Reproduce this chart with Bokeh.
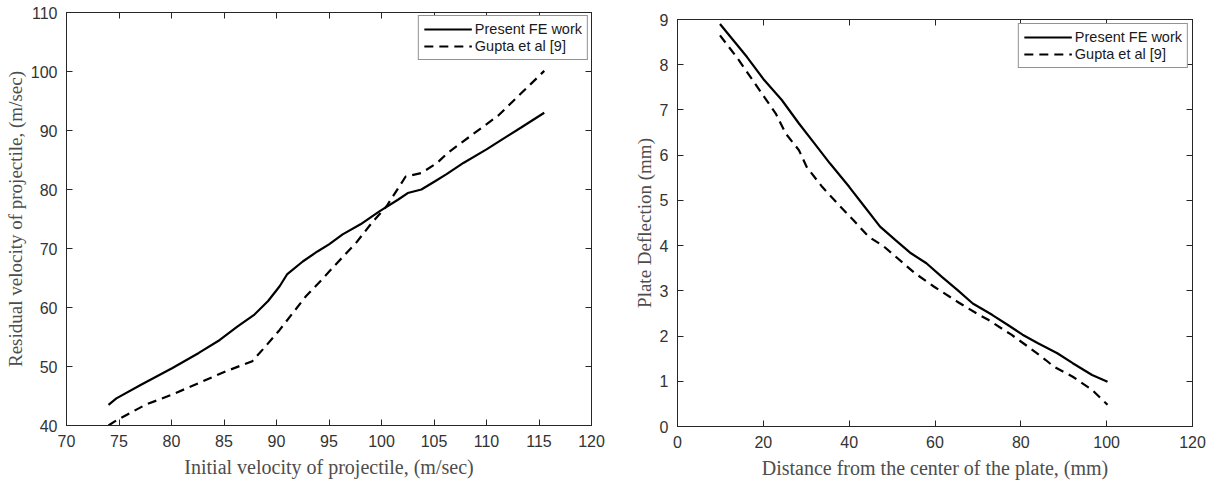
from bokeh.plotting import figure
from bokeh.layouts import row, column
from bokeh.models import (LinearAxis, SingleIntervalTicker, Legend, LegendItem, Range1d,
                          CustomJSTickFormatter)
from bokeh.embed import file_html
from bokeh.resources import INLINE

# ---- Left chart data: residual vs initial velocity ----
fe_vi = [74.0, 74.75, 77.1, 80.05, 82.6, 84.6, 86.3, 87.9, 89.2, 90.3, 91.0, 92.5, 93.9, 95.0,
         96.3, 98.0, 99.8, 101.6, 102.5, 103.8, 105.1, 106.2, 107.8, 110.0, 111.5, 113.3, 115.5]
fe_vr = [43.5, 44.6, 46.9, 49.7, 52.3, 54.5, 56.8, 58.8, 61.1, 63.6, 65.6, 67.8, 69.5, 70.7,
         72.4, 74.1, 76.3, 78.3, 79.4, 80.0, 81.4, 82.6, 84.5, 86.8, 88.5, 90.5, 93.0]
gu_vi = [74.0, 74.6, 77.5, 80.0, 82.6, 85.2, 87.7, 88.8, 90.3, 91.7, 92.8, 94.3, 95.8, 97.6,
         99.1, 100.5, 102.3, 103.8, 105.3, 106.3, 108.5, 111.1, 115.5]
gu_vr = [40.0, 40.7, 43.5, 45.2, 47.2, 49.2, 50.9, 53.1, 56.2, 59.4, 61.9, 64.7, 67.6, 71.0,
         74.4, 77.2, 82.2, 82.8, 84.5, 86.2, 89.1, 92.5, 100.1]

# ---- Right chart data: plate deflection vs distance ----
fe_d = [9.9, 13.0, 16.2, 20.2, 24.3, 28.3, 31.9, 35.5, 40.0, 43.6, 47.2, 50.8, 54.4, 58.0,
        61.6, 65.2, 68.8, 73.3, 76.9, 80.4, 84.0, 88.5, 92.1, 96.6, 100.2]
fe_w = [8.90, 8.54, 8.17, 7.66, 7.22, 6.70, 6.26, 5.82, 5.30, 4.86, 4.42, 4.12, 3.83, 3.61,
        3.31, 3.02, 2.72, 2.47, 2.25, 2.03, 1.84, 1.62, 1.40, 1.14, 0.99]
gu_d = [9.9, 14.0, 17.5, 20.2, 22.9, 25.2, 28.3, 30.1, 33.7, 37.3, 40.9, 44.5, 48.1, 50.8,
        55.3, 59.8, 65.2, 69.7, 72.4, 77.8, 82.2, 85.8, 87.6, 92.1, 96.6, 100.2]
gu_w = [8.65, 8.14, 7.66, 7.29, 6.92, 6.48, 6.11, 5.74, 5.30, 4.93, 4.57, 4.20, 3.98, 3.76,
        3.39, 3.09, 2.76, 2.50, 2.36, 2.03, 1.73, 1.47, 1.33, 1.10, 0.81, 0.48]

series_labels = ["Present FE work", "Gupta et al [9]"]

TICK_FONT = "Liberation Sans"
LABEL_FONT = "Liberation Serif"
TICK_COLOR = "#333333"
LABEL_COLOR = "#4d4d4d"


def style_axis(ax, show_labels=True, interval=None):
    ax.major_tick_in = 6
    ax.major_tick_out = 0
    ax.minor_tick_line_color = None
    ax.axis_line_color = "#262626"
    ax.major_tick_line_color = "#262626"
    ax.major_label_text_font = TICK_FONT
    ax.major_label_text_font_size = "16px"
    ax.major_label_text_color = TICK_COLOR
    ax.major_label_standoff = 5
    ax.axis_label_text_font = LABEL_FONT
    ax.axis_label_text_font_style = "normal"
    ax.axis_label_text_color = LABEL_COLOR
    if interval is not None:
        ax.ticker = SingleIntervalTicker(interval=interval)
    if not show_labels:
        ax.formatter = CustomJSTickFormatter(code="return '';")
        ax.major_label_text_font_size = "1px"
        ax.major_label_standoff = 0
        ax.axis_label_standoff = 0


def make_fig(width, x_range, y_range, xint, yint, borders, xlabel, ylabel,
             x1, y1, x2, y2, legend_margin):
    p = figure(width=width, height=483, output_backend="svg", toolbar_location=None,
               title=None, x_range=Range1d(*x_range), y_range=Range1d(*y_range))
    p.min_border_left, p.min_border_right, p.min_border_top, p.min_border_bottom = borders
    p.xgrid.visible = False
    p.ygrid.visible = False
    p.outline_line_color = "#262626"
    p.background_fill_color = "white"
    p.border_fill_color = "white"
    style_axis(p.xaxis[0], True, xint)
    style_axis(p.yaxis[0], True, yint)
    p.xaxis[0].axis_label = xlabel
    p.yaxis[0].axis_label = ylabel
    p.xaxis[0].axis_label_text_font_size = "20px"
    p.xaxis[0].axis_label_standoff = 6
    p.yaxis[0].axis_label_text_font_size = "19px"
    p.yaxis[0].axis_label_standoff = 2
    top = LinearAxis()
    style_axis(top, False, xint)
    right = LinearAxis()
    style_axis(right, False, yint)
    p.add_layout(top, "above")
    p.add_layout(right, "right")

    r1 = p.line(x1, y1, line_color="black", line_width=2.2)
    r2 = p.line(x2, y2, line_color="black", line_width=2.2, line_dash="9 6")
    leg = Legend(items=[LegendItem(label=series_labels[0], renderers=[r1]),
                        LegendItem(label=series_labels[1], renderers=[r2])],
                 location="top_right")
    leg.border_line_color = "#262626"
    leg.border_line_width = 1
    leg.label_text_font = TICK_FONT
    leg.label_text_font_size = "14.5px"
    leg.label_text_color = "#1a1a1a"
    leg.glyph_width = 48
    leg.glyph_height = 14
    leg.label_standoff = 3
    leg.spacing = 1
    leg.padding = 5
    leg.margin = legend_margin
    leg.background_fill_alpha = 1
    p.add_layout(leg)
    return p


p1 = make_fig(607, (70, 120), (40, 110), 5, 10, (66, 16, 12, 58),
              "Initial velocity of projectile, (m/sec)",
              "Residual velocity of projectile, (m/sec)",
              fe_vi, fe_vr, gu_vi, gu_vr, 3)
p2 = make_fig(607, (0, 120), (0, 9), 20, 1, (70, 22, 19, 57),
              "Distance from the center of the plate, (mm)",
              "Plate Deflection (mm)",
              fe_d, fe_w, gu_d, gu_w, 4)

layout = row(column(p1), column(p2))
open("out.html", "w").write(file_html(layout, INLINE))
